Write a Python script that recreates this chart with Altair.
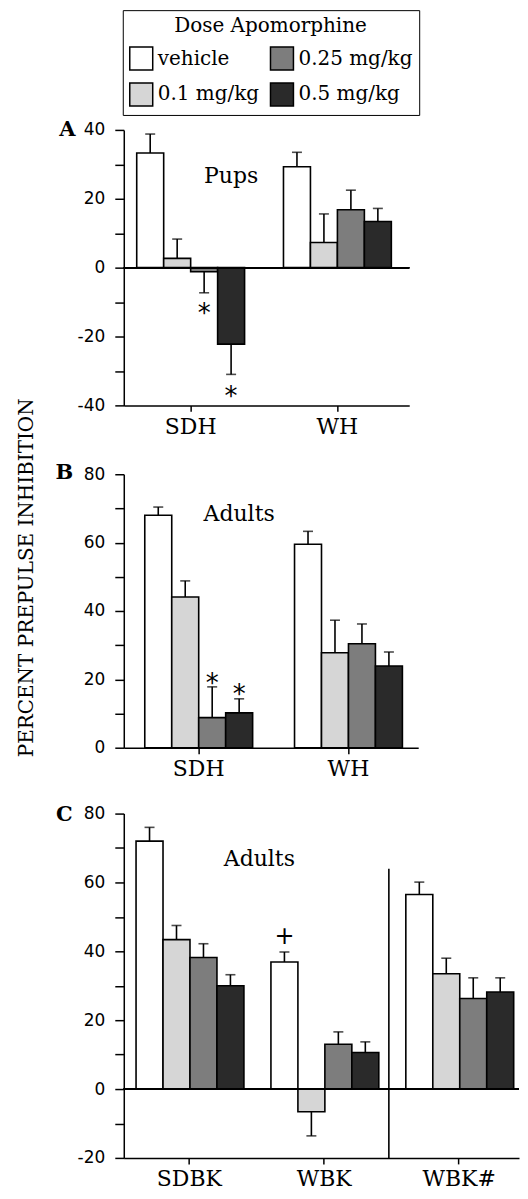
import altair as alt
import pandas as pd

SERIF = "DejaVu Serif"
SANS = "DejaVu Sans"

doses = ["vehicle", "0.1 mg/kg", "0.25 mg/kg", "0.5 mg/kg"]
fills = ["#ffffff", "#d6d6d6", "#7d7d7d", "#2a2a2a"]

# Panel A: Pups
a_groups = ["SDH", "WH"]
a_sdh_mean = [33.3, 2.7, -1.2, -22.2]
a_sdh_sem = [5.5, 5.6, 6.1, 8.8]
a_wh_mean = [29.3, 7.3, 16.8, 13.4]
a_wh_sem = [4.2, 8.3, 5.7, 3.8]
a_star_group = ["SDH", "SDH"]
a_star_dose = ["0.25 mg/kg", "0.5 mg/kg"]
a_star_y = [-11.5, -35.5]

# Panel B: Adults
b_groups = ["SDH", "WH"]
b_sdh_mean = [68.0, 44.1, 8.8, 10.2]
b_sdh_sem = [2.4, 4.7, 9.0, 4.1]
b_wh_mean = [59.5, 27.8, 30.4, 23.9]
b_wh_sem = [3.8, 9.5, 5.8, 4.1]
b_star_group = ["SDH", "SDH"]
b_star_dose = ["0.25 mg/kg", "0.5 mg/kg"]
b_star_y = [20.8, 17.5]

# Panel C: Adults
c_groups = ["SDBK", "WBK", "WBK#"]
c_sdbk_mean = [72.0, 43.4, 38.2, 30.0]
c_sdbk_sem = [4.0, 4.1, 4.0, 3.2]
c_wbk_mean = [36.9, -6.6, 13.0, 10.6]
c_wbk_sem = [2.9, 7.0, 3.6, 3.1]
c_wbkh_mean = [56.5, 33.5, 26.3, 28.2]
c_wbkh_sem = [3.6, 4.5, 6.0, 4.1]
c_plus_group = ["WBK"]
c_plus_dose = ["vehicle"]
c_plus_y = [44.3]


def make_df(groups, means, sems):
    rows = []
    for g, m, s in zip(groups, means, sems):
        for d, v, e in zip(doses, m, s):
            end = v + e if v >= 0 else v - e
            rows.append({"group": g, "dose": d, "value": v, "end": end})
    return pd.DataFrame(rows)


def mark_df(groups, dose_list, ys):
    return pd.DataFrame({"group": groups, "dose": dose_list, "y": ys})


def panel(df, groups, ymin, ymax, width, height, letter, letter_x, letter_y,
          pi, po, al, legend, zero_line, extras, label_pad=5):
    xscale = alt.Scale(domain=groups, paddingInner=pi, paddingOuter=po, align=al)
    xaxis = alt.Axis(title=None, labelAngle=0, tickSize=6, labelPadding=label_pad,
                     labelFont=SERIF, labelFontSize=22, labelColor="black",
                     domainColor="black", domainWidth=1.5, tickColor="black",
                     tickWidth=1.5, grid=False)
    xenc = alt.X("group:N", sort=groups, scale=xscale, axis=xaxis)
    xo = alt.XOffset("dose:N", sort=doses,
                     scale=alt.Scale(domain=doses, paddingInner=0, paddingOuter=0))
    yscale = alt.Scale(domain=[ymin, ymax], nice=False, zero=False)
    yaxis = alt.Axis(values=list(range(ymin, ymax + 1, 10)),
                     labelExpr="datum.value % 20 == 0 ? toString(datum.value) : ''",
                     tickSize=9, labelPadding=10, labelFont=SANS, labelFontSize=17,
                     labelColor="black", domainColor="black", domainWidth=1.5,
                     tickColor="black", tickWidth=1.5, grid=False,
                     title=letter, titleAngle=0, titleX=letter_x, titleY=letter_y,
                     titleAlign="center", titleBaseline="middle", titleFont=SERIF,
                     titleFontSize=21, titleFontWeight="bold", titleColor="black")
    color = alt.Color("dose:N", scale=alt.Scale(domain=doses, range=fills),
                      legend=legend)
    ctx = dict(xenc=xenc, xo=xo, yscale=yscale, yaxis=yaxis, groups=groups,
               xscale=xscale, xaxis=xaxis)
    base = alt.Chart(df)
    layers = []
    layers.append(base.mark_bar(stroke="black", strokeWidth=1.6).encode(
        x=xenc, xOffset=xo, y=alt.Y("value:Q", scale=yscale, axis=yaxis), color=color))
    if zero_line:
        layers.append(base.mark_rule(color="black", strokeWidth=1.5).encode(
            y=alt.YDatum(0, scale=yscale, axis=yaxis)))
    layers.append(base.mark_rule(color="black", strokeWidth=1.6).encode(
        x=xenc, xOffset=xo, y=alt.Y("value:Q", scale=yscale, axis=yaxis), y2="end:Q"))
    layers.append(base.mark_tick(color="black", thickness=1.6, size=10,
                                 orient="horizontal").encode(
        x=xenc, xOffset=xo, y=alt.Y("end:Q", scale=yscale, axis=yaxis)))
    for ex in extras:
        layers.append(ex(ctx))
    return alt.layer(*layers).properties(width=width, height=height)


def stars(dfm, symbol, size, dy):
    def f(c):
        return alt.Chart(dfm).mark_text(text=symbol, font=SANS, fontSize=size,
                                        baseline="alphabetic", dy=dy, color="black").encode(
            x=c["xenc"], xOffset=c["xo"], y=alt.Y("y:Q", scale=c["yscale"], axis=c["yaxis"]))
    return f


def label(text, group, dose, yval, dx=0):
    def f(c):
        return alt.Chart(pd.DataFrame({"group": [group], "dose": [dose], "y": [yval]})).mark_text(
            text=text, font=SERIF, fontSize=22, baseline="middle", align="center",
            dx=dx, color="black").encode(
            x=c["xenc"], xOffset=c["xo"], y=alt.Y("y:Q", scale=c["yscale"], axis=c["yaxis"]))
    return f


def divider(group, ytop, ybot):
    def f(c):
        return alt.Chart(pd.DataFrame({"group": [group], "y": [ytop], "y2": [ybot]})).mark_rule(
            color="black", strokeWidth=1.6, xOffset=-17).encode(
            x=alt.X("group:N", sort=c["groups"], scale=c["xscale"], axis=c["xaxis"],
                    bandPosition=0),
            y=alt.Y("y:Q", scale=c["yscale"], axis=c["yaxis"]), y2="y2:Q")
    return f


legend_a = alt.Legend(title="Dose Apomorphine", orient="none", legendX=-1, legendY=-120,
                      columns=2, columnPadding=8, rowPadding=7, symbolType="square",
                      symbolSize=529, symbolStrokeColor="black", symbolStrokeWidth=1.5,
                      labelFont=SERIF, labelFontSize=20, labelColor="black", labelOffset=4,
                      titleFont=SERIF, titleFontSize=20, titleFontWeight="normal",
                      titleAnchor="middle", titleColor="black", titlePadding=10,
                      titleLimit=400, labelLimit=300,
                      padding=6, strokeColor="black", fillColor="white")

df_a = make_df(a_groups, [a_sdh_mean, a_wh_mean], [a_sdh_sem, a_wh_sem])
df_b = make_df(b_groups, [b_sdh_mean, b_wh_mean], [b_sdh_sem, b_wh_sem])
df_c = make_df(c_groups, [c_sdbk_mean, c_wbk_mean, c_wbkh_mean],
               [c_sdbk_sem, c_wbk_sem, c_wbkh_sem])

panel_a = panel(df_a, a_groups, -40, 40, 286, 276, "A", -57, 0, 0.265, 0.105, 0.42,
                legend_a, True,
                [label("Pups", "SDH", "0.5 mg/kg", 26.5),
                 stars(mark_df(a_star_group, a_star_dose, a_star_y), "*", 26, 15)])
panel_b = panel(df_b, b_groups, 0, 80, 295, 274, "B", -60, -2, 0.28, 0.123, 0.57,
                None, False,
                [label("Adults", "SDH", "0.5 mg/kg", 68.5),
                 stars(mark_df(b_star_group, b_star_dose, b_star_y), "*", 26, 15)])
panel_c = panel(df_c, c_groups, -20, 80, 396, 345, "C", -60, 1, 0.21, 0.07, 0.65,
                None, True,
                [label("Adults", "SDBK", "0.5 mg/kg", 66.9, dx=29),
                 stars(mark_df(c_plus_group, c_plus_dose, c_plus_y), "+", 24, 8),
                 divider("WBK#", 64, -20)],
                label_pad=5)

res = dict(x="independent", y="independent", color="independent")
inner = alt.vconcat(panel_b, panel_c, spacing=24).resolve_scale(**res)
chart = alt.vconcat(panel_a, inner, spacing=24).resolve_scale(**res).properties(
    padding={"left": 9, "top": 0, "right": 0, "bottom": 0},
    title=alt.Title("PERCENT PREPULSE INHIBITION", orient="left", anchor="middle",
                    offset=18, font=SERIF, fontSize=20, fontWeight="normal",
                    color="black", dx=22),
    background="white",
).configure_view(stroke=None)

chart.save("out.html", embed_options={"renderer": "svg", "actions": False})
